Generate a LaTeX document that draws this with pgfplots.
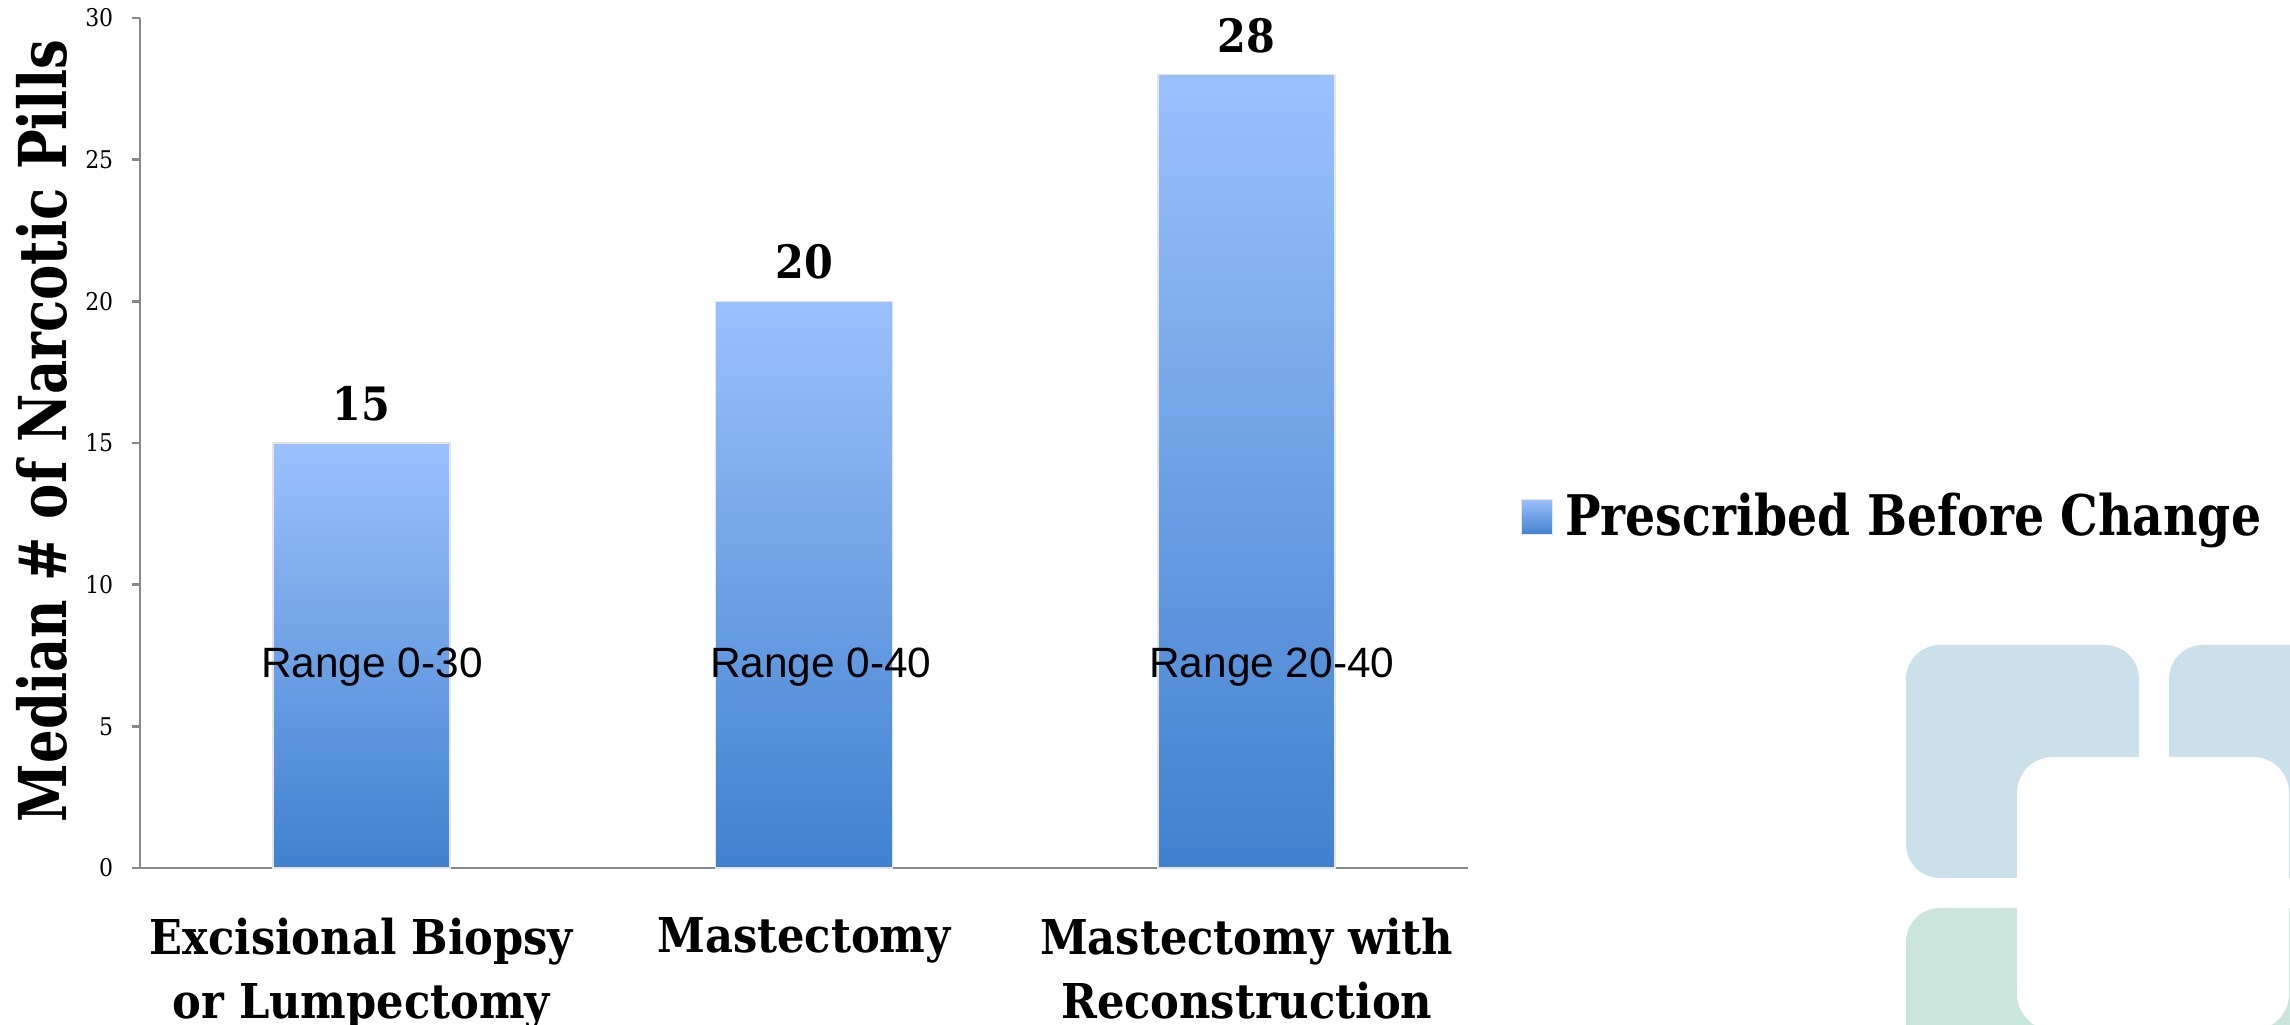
\documentclass[border=0pt]{standalone}
\usepackage{graphicx}
\usepackage{pgfplots}
\pgfplotsset{compat=1.18}
\usepackage{fontspec}
\setmainfont{DejaVu Serif Condensed}
\newfontfamily\arialfont{Liberation Sans}

\definecolor{barTop}{RGB}{155,193,252}
\definecolor{barBottom}{RGB}{64,129,207}
\definecolor{axisGray}{RGB}{136,136,136}
\definecolor{logoBlue}{RGB}{202,225,236}
\definecolor{logoGreen}{RGB}{201,229,220}

\begin{document}
\begin{tikzpicture}
\useasboundingbox (0bp,0bp) rectangle (572.5bp,256.25bp);

% corner logo
\begin{scope}
\clip (0bp,0bp) rectangle (572.5bp,256.25bp);
\fill[logoBlue, rounded corners=8.5bp] (476.5bp,36.75bp) rectangle (534.75bp,95bp);
\fill[logoBlue, rounded corners=8.5bp] (542.25bp,36.75bp) rectangle (600bp,95bp);
\fill[logoGreen, rounded corners=8.5bp] (476.5bp,-20bp) rectangle (600bp,29.25bp);
\fill[white, rounded corners=9bp] (504.25bp,-1.25bp) rectangle (572.25bp,67bp);
\end{scope}

\begin{axis}[
  at={(35bp,39.25bp)}, anchor=south west,
  scale only axis, width=332bp, height=212.5bp,
  xmin=-0.5, xmax=2.5, ymin=0, ymax=30,
  axis lines*=left,
  axis line style={axisGray, line width=0.6bp},
  xtick={0,1,2},
  xticklabels={{Excisional Biopsy\\or Lumpectomy},{Mastectomy},{Mastectomy with\\Reconstruction}},
  ytick={0,5,...,30},
  tick align=outside, major tick length=2bp,
  ytick style={axisGray, line width=0.6bp},
  xtick style={draw=none},
  /pgf/number format/assume math mode=true,
  yticklabel style={font=\fontsize{6.1bp}{7bp}\selectfont, inner sep=0pt, xshift=-4.5bp},
  xticklabel style={font=\fontsize{12bp}{16bp}\selectfont\bfseries, align=center, inner sep=0pt, yshift=-10.25bp},
  ylabel={\scalebox{0.89}[1]{Median \# of Narcotic Pills}},
  ylabel style={at={(axis description cs:-0.0738,0.514)}, anchor=center,
    font=\fontsize{16.5bp}{18bp}\selectfont\bfseries},
  ybar, bar width=0.4, bar shift=0pt,
  nodes near coords,
  nodes near coords style={font=\fontsize{11.5bp}{13bp}\selectfont\bfseries,
    anchor=south, inner sep=0pt, yshift=5.25bp, text=black},
  legend style={at={(1.039,0.413)}, anchor=west, draw=none, fill=none,
    font=\fontsize{14bp}{16bp}\selectfont\bfseries, inner sep=0pt,
    legend cell align=left},
  legend image code/.code={%
    \shade[top color=barTop, bottom color=barBottom] (0bp,-4.4bp) rectangle (7.75bp,4.4bp);},
  clip=false,
]
% each bar carries its own top-to-bottom gradient
\addplot[top color=barTop, bottom color=barBottom, draw=black!10, line width=0.4bp]
  coordinates {(0,15)};
\addlegendentry{\hspace{1bp}\scalebox{0.94}[1]{Prescribed Before Change}}
\addplot[forget plot, top color=barTop, bottom color=barBottom, draw=black!10, line width=0.4bp]
  coordinates {(1,20)};
\addplot[forget plot, top color=barTop, bottom color=barBottom, draw=black!10, line width=0.4bp]
  coordinates {(2,28)};

% ranges written across the bars
\node[font=\arialfont\fontsize{10.6bp}{12bp}\selectfont] at (axis cs:0.024,7.1) {Range 0-30};
\node[font=\arialfont\fontsize{10.6bp}{12bp}\selectfont] at (axis cs:1.038,7.1) {Range 0-40};
\node[font=\arialfont\fontsize{10.6bp}{12bp}\selectfont] at (axis cs:2.057,7.1) {Range 20-40};
\end{axis}
\end{tikzpicture}
\end{document}
